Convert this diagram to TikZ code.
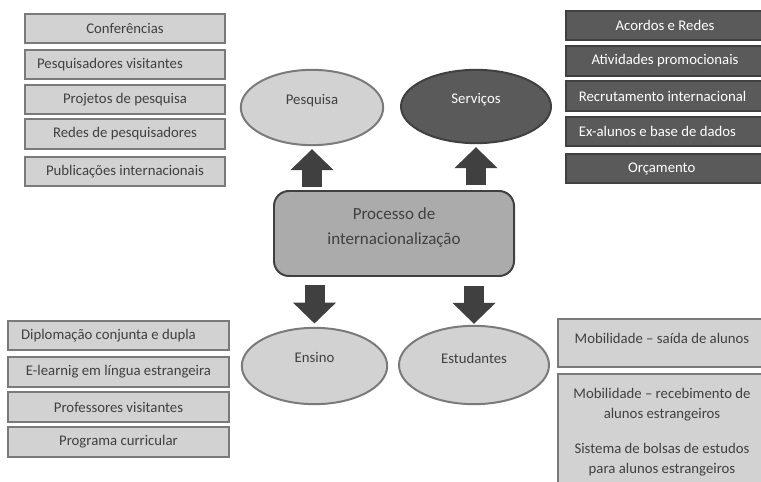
\documentclass[tikz,border=0pt]{standalone}
\usepackage{fontspec}
\setmainfont{Carlito}
\usetikzlibrary{shapes.geometric,arrows.meta}
\definecolor{boxfill}{HTML}{D2D2D2}
\definecolor{boxline}{HTML}{7A7A7A}
\definecolor{darkfill}{HTML}{5A5A5A}
\definecolor{darkline}{HTML}{404040}
\definecolor{midfill}{HTML}{ABABAB}
\definecolor{txtgray}{HTML}{404040}
\tikzset{
  txt/.style={text=txtgray,inner sep=0pt,align=center,font=\fontsize{12.6}{17}\selectfont},
  lightbox/.style={txt,draw=boxline,fill=boxfill,line width=1.7pt,minimum height=0.88cm},
  darkbox/.style={lightbox,draw=darkline,fill=darkfill,text=white},
  oval/.style={ellipse,draw=boxline,fill=boxfill,line width=1.7pt,inner sep=0pt},
  blockarr/.style={draw=darkline,line width=0.6cm,-{Triangle[width=1.26cm,length=0.63cm]}}
}
\begin{document}
\begin{tikzpicture}[x=0.03cm,y=-0.03cm]
\useasboundingbox (0,0) rectangle (761,482);
\def\wlt{6.0cm};
\def\wrt{5.95cm};
\def\wlb{6.6cm};
\def\wrb{6.25cm};
%left top boxes
\foreach\n/\y/\t/\s in {conf/28.5/Conferências/0cm,pvis/64.5/Pesquisadores visitantes/-0.9cm,proj/99.5/Projetos de pesquisa/0cm,rede/134/Redes de pesquisadores/0cm,publ/171.5/Publicações internacionais/0cm} {
  \node[lightbox,minimum width=\wlt] (\n) at (125,\y) {\hspace*{\s}\t};
}
%right top boxes
\foreach\n/\y/\t/\s in {acor/25.5/Acordos e Redes/0cm,ativ/61/Atividades promocionais/0cm,recr/96/Recrutamento internacional/-0.15cm,exal/131.5/Ex-alunos e base de dados/-0.45cm,orca/168.5/Orçamento/-0.2cm} {
  \node[darkbox,minimum width=\wrt] (\n) at (665,\y) {\hspace*{\s}\t};
}
%left bottom boxes
\foreach\n/\y/\t/\s in {dipl/335.5/Diplomação conjunta e dupla/-0.6cm,elea/372/E-learnig em língua estrangeira/0cm,prof/407/Professores visitantes/0cm,prog/442/Programa curricular/0cm} {
  \node[lightbox,minimum width=\wlb] (\n) at (118.5,\y) {\hspace*{\s}\t};
}
%right bottom boxes
\node[lightbox,minimum width=\wrb,minimum height=1.45cm] (said) at (662,343) {Mobilidade – saída de alunos\\[-8.5pt]~};
\node[lightbox,minimum width=\wrb,minimum height=4.5cm,anchor=north] (recb) at (662,373) {};
\node[txt,anchor=north] (recbtxt) at (662,388) {Mobilidade – recebimento de\\alunos estrangeiros\\[12.8pt]Sistema de bolsas de estudos\\para alunos estrangeiros};
%center
\node[draw=darkline,fill=midfill,line width=1.7pt,rounded corners=0.45cm,minimum width=7.2cm,minimum height=2.55cm] (proc) at (394,233.5) {};
\node[txt,font=\fontsize{14.5}{21.3}\selectfont] (proctxt) at (394,228) {Processo de\\internacionalização};
%ellipses
\node[oval,minimum width=4.27cm,minimum height=2.26cm] (pesq) at (312,107.5) {};
\node[oval,fill=darkfill,draw=darkline,minimum width=4.5cm,minimum height=2.2cm] (serv) at (476,106.5) {};
\node[oval,minimum width=4.36cm,minimum height=2.29cm] (ens) at (314.5,366) {};
\node[oval,minimum width=4.5cm,minimum height=2.35cm] (estu) at (474,365) {};
\node[txt] (pesqtxt) at ([yshift=0.22cm]pesq.center) {Pesquisa};
\node[txt,text=white] (servtxt) at ([yshift=0.2cm]serv.center) {Serviços};
\node[txt] (enstxt) at ([yshift=0.25cm]ens.center) {Ensino};
\node[txt] (estutxt) at ([yshift=0.2cm]estu.center) {Estudantes};
%arrows
\draw[blockarr,shorten <=0.1cm,shorten >=0.09cm] (pesq.south |- proc.north) -- (pesq.south);
\draw[blockarr,shorten <=0.15cm,shorten >=0.09cm] (serv.south |- proc.north) -- (serv.south);
\draw[blockarr,shorten <=0.24cm,shorten >=0.1cm] (ens.north |- proc.south) -- (ens.north);
\draw[blockarr,shorten <=0.26cm,shorten >=0.03cm] (estu.north |- proc.south) -- (estu.north);
\end{tikzpicture}
\end{document}
